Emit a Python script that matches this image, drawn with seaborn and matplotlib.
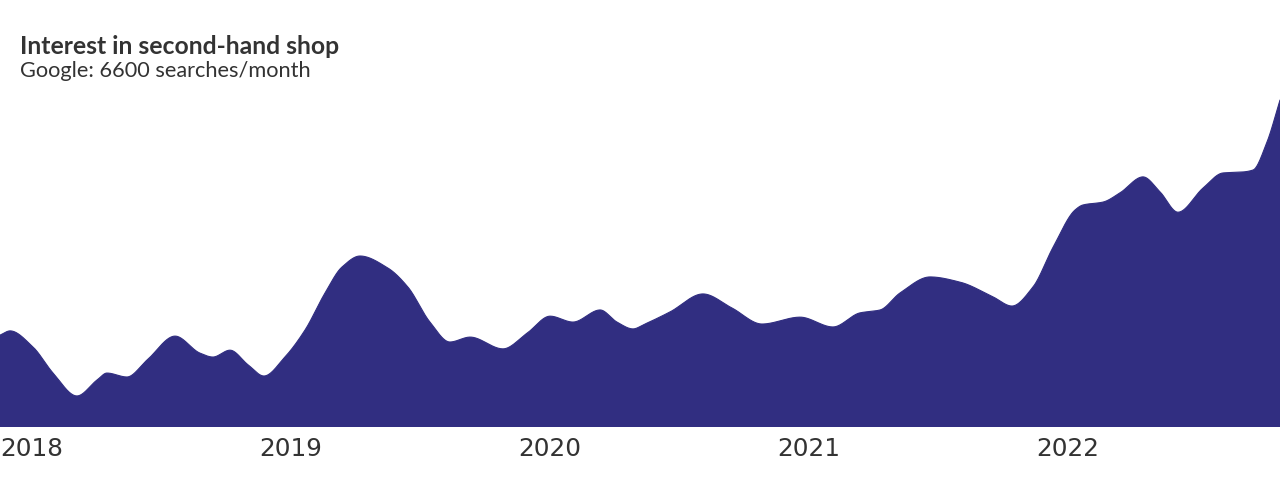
import numpy as np
import pandas as pd
import matplotlib
matplotlib.use('Agg')
import matplotlib.pyplot as plt
import seaborn as sns

# values (x in decimal years, interest index, last point = 100)
years = [2018.000, 2018.039, 2018.127, 2018.205, 2018.297, 2018.375, 2018.413, 2018.490,
         2018.568, 2018.676, 2018.772, 2018.822, 2018.888, 2018.958, 2019.019, 2019.100,
         2019.178, 2019.255, 2019.320, 2019.390, 2019.498, 2019.575, 2019.660, 2019.737,
         2019.815, 2019.942, 2020.035, 2020.124, 2020.212, 2020.317, 2020.382, 2020.444,
         2020.490, 2020.587, 2020.714, 2020.826, 2020.942, 2021.089, 2021.216, 2021.320,
         2021.398, 2021.475, 2021.591, 2021.707, 2021.834, 2021.907, 2021.988, 2022.066,
         2022.151, 2022.181, 2022.259, 2022.324, 2022.413, 2022.479, 2022.548, 2022.645,
         2022.722, 2022.799, 2022.838, 2022.892, 2022.942]
interest = [28.1, 29.4, 24.5, 16.5, 9.5, 14.4, 16.5, 15.3,
            20.5, 27.8, 22.6, 21.4, 23.5, 19.0, 15.6, 21.4,
            29.7, 41.0, 48.9, 52.3, 48.6, 42.8, 32.1, 26.0,
            27.5, 23.9, 28.7, 33.9, 32.1, 35.8, 32.1, 30.0,
            31.5, 35.2, 40.7, 36.4, 31.5, 33.6, 30.6, 34.9,
            35.8, 41.0, 45.9, 44.3, 39.8, 37.0, 42.8, 55.0,
            66.4, 67.9, 68.8, 71.6, 76.5, 71.9, 65.7, 73.1,
            77.7, 78.0, 78.6, 87.2, 100.0]
year_ticks = [2018, 2019, 2020, 2021, 2022]
title = 'Interest in second-hand shop'
subtitle = 'Google: 6600 searches/month'
fill_color = '#312e81'
text_color = '#333333'


def smooth(x, y, n=3000):
  # monotone cubic (pchip style) so peaks stay where the points are
  x = np.asarray(x, float)
  y = np.asarray(y, float)
  h = np.diff(x)
  d = np.diff(y) / h
  m = np.zeros_like(y)
  m[0], m[-1] = d[0], d[-1]
  for k in range(1, len(x) - 1):
    if d[k - 1] * d[k] <= 0:
      m[k] = 0
    else:
      w1 = 2 * h[k] + h[k - 1]
      w2 = h[k] + 2 * h[k - 1]
      m[k] = (w1 + w2) / (w1 / d[k - 1] + w2 / d[k])
  xs = np.linspace(x[0], x[-1], n)
  idx = np.clip(np.searchsorted(x, xs) - 1, 0, len(x) - 2)
  t = (xs - x[idx]) / h[idx]
  h00 = 2 * t**3 - 3 * t**2 + 1
  h10 = t**3 - 2 * t**2 + t
  h01 = -2 * t**3 + 3 * t**2
  h11 = t**3 - t**2
  ys = h00 * y[idx] + h10 * h[idx] * m[idx] + h01 * y[idx + 1] + h11 * h[idx] * m[idx + 1]
  return xs, ys


df = pd.DataFrame({'year': years, 'interest': interest})
xs, ys = smooth(df['year'], df['interest'])
curve = pd.DataFrame({'year': xs, 'interest': ys})

sns.set_style('white')
fig = plt.figure(figsize=(12.8, 4.8), dpi=100)
ax = fig.add_axes([0, 0.1104, 1, 0.8896])

sns.lineplot(data=curve, x='year', y='interest', ax=ax, color=fill_color,
             linewidth=0.8, estimator=None, sort=False)
ax.fill_between(curve['year'], 0, curve['interest'], color=fill_color, linewidth=0)

ax.set_xlim(df['year'].min(), df['year'].max())
ax.set_ylim(0, 130.6)
ax.set_xticks(year_ticks)
ax.set_xticklabels([str(y) for y in year_ticks], family='DejaVu Sans', fontsize=17.8,
                   color=text_color, ha='left')
ax.set_yticks([])
ax.tick_params(axis='x', length=0, pad=7.5)
ax.set_xlabel('')
ax.set_ylabel('')
for s in ax.spines.values():
  s.set_visible(False)

fig.text(20 / 1280, 1 - 47 / 480, title, family=['Lato', 'DejaVu Sans'], fontweight='bold',
         fontsize=17.8, color=text_color, va='center', ha='left')
fig.text(20 / 1280, 1 - 71 / 480, subtitle, family=['Lato', 'DejaVu Sans'],
         fontsize=15.7, color=text_color, va='center', ha='left')

plt.savefig('out.png', dpi=100, facecolor='white')
plt.close()
